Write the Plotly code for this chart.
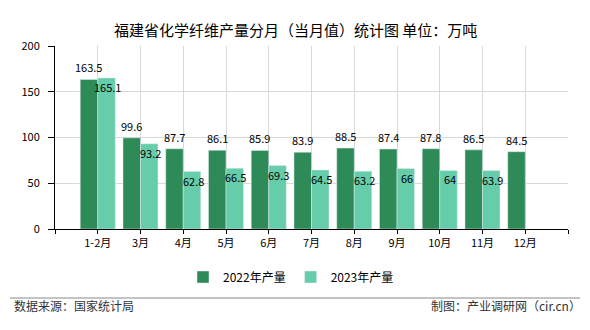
import plotly.graph_objects as go

categories = ["1-2月", "3月", "4月", "5月", "6月", "7月", "8月", "9月", "10月", "11月", "12月"]
values_2022 = [163.5, 99.6, 87.7, 86.1, 85.9, 83.9, 88.5, 87.4, 87.8, 86.5, 84.5]
values_2023 = [165.1, 93.2, 62.8, 66.5, 69.3, 64.5, 63.2, 66, 64, 63.9, None]
labels_2022 = ["163.5", "99.6", "87.7", "86.1", "85.9", "83.9", "88.5", "87.4", "87.8", "86.5", "84.5"]
labels_2023 = ["165.1", "93.2", "62.8", "66.5", "69.3", "64.5", "63.2", "66", "64", "63.9", ""]
y_ticks = [0, 50, 100, 150, 200]

C22 = "#2E8B57"
C23 = "#66CDAA"
FONT = "Noto Sans CJK SC"
W = 0.41
idx = list(range(len(categories)))

L, R, T, B = 55, 22, 46, 101
plot_h = 330 - T - B
plot_w = 590 - L - R


def px(x):
    return (x - L) / plot_w


def py(y):
    return (330 - B - y) / plot_h


fig = go.Figure()
fig.add_trace(go.Bar(x=idx, y=values_2022, name="2022年产量", marker_color=C22,
                     width=W, offset=-W))
fig.add_trace(go.Bar(x=idx, y=values_2023, name="2023年产量", marker_color=C23,
                     width=W, offset=0))

ann = []
for i, (v, t) in enumerate(zip(values_2022, labels_2022)):
    ann.append(dict(x=i - W / 2, y=v, text=t, showarrow=False, xref="x", yref="y",
                    yanchor="middle", yshift=12, font=dict(size=11, color="#000", family=FONT)))
for i, (v, t) in enumerate(zip(values_2023, labels_2023)):
    if v is None:
        continue
    ann.append(dict(x=i + W / 2, y=v, text=t, showarrow=False, xref="x", yref="y",
                    yanchor="middle", xshift=1, yshift=-9, font=dict(size=11, color="#000", family=FONT)))

ann.append(dict(x=px(295), y=py(17), xref="paper", yref="paper",
                text="福建省化学纤维产量分月（当月值）统计图 单位：万吨",
                showarrow=False, font=dict(size=15, color="#000", family=FONT)))
ann.append(dict(x=px(12), y=py(316), xref="paper", yref="paper", text="数据来源：国家统计局",
                xanchor="left", showarrow=False, font=dict(size=12, color="#333", family=FONT)))
ann.append(dict(x=px(583), y=py(316), xref="paper", yref="paper", text="制图：产业调研网（cir.cn）",
                xanchor="right", showarrow=False, font=dict(size=12, color="#333", family=FONT)))

fig.update_layout(
    width=590, height=330,
    margin=dict(l=L, r=R, t=T, b=B),
    paper_bgcolor="white", plot_bgcolor="white",
    barmode="overlay",
    font=dict(family=FONT, size=11, color="#000"),
    showlegend=True,
    legend=dict(orientation="h", x=px(291), xanchor="center", y=py(277), yanchor="middle",
                font=dict(size=12, color="#000", family=FONT), itemwidth=30, traceorder="normal"),
    xaxis=dict(range=[-1, 11], tickvals=[-1] + idx + [11], ticktext=[""] + categories + [""],
               showgrid=True, gridcolor="#d9d9d9", gridwidth=1,
               showline=True, linecolor="#000", linewidth=1,
               ticks="outside", ticklen=4, tickcolor="#000",
               tickfont=dict(size=11, color="#000", family=FONT), zeroline=False),
    yaxis=dict(range=[0, 200], tickvals=y_ticks, showgrid=True, gridcolor="#d9d9d9", gridwidth=1,
               showline=True, linecolor="#000", linewidth=1,
               ticks="outside", ticklen=6, tickcolor="#000", ticklabelstandoff=6,
               tickfont=dict(size=11, color="#000", family=FONT), zeroline=False),
    annotations=ann,
)

fig.add_shape(type="line", xref="paper", yref="paper",
              x0=px(10), x1=px(580), y0=py(298), y1=py(298),
              line=dict(color="#888", width=1))

fig.write_html("out.html")
